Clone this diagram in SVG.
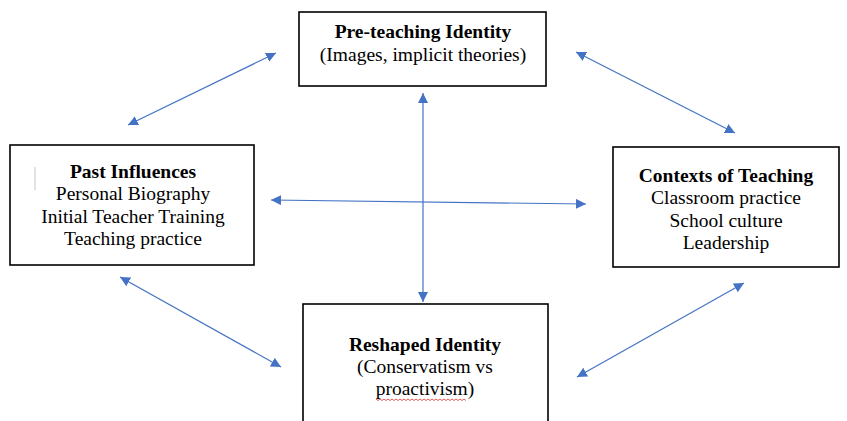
<svg xmlns="http://www.w3.org/2000/svg" width="847" height="421" viewBox="0 0 847 421">
<style>
.box{fill:#fff;stroke:#000;stroke-width:1.6}
text{font-family:"Liberation Serif","Times New Roman",serif;font-size:19.5px;fill:#000;text-anchor:middle}
.b{font-weight:bold}
.conn line{stroke:#4472C4;stroke-width:1.2}
</style>
<defs>
<marker id="ah" viewBox="0 0 10 10" refX="10" refY="5" markerWidth="10" markerHeight="10" markerUnits="userSpaceOnUse" orient="auto-start-reverse">
<path d="M0,0 L10,5 L0,10 Z" fill="#4472C4"/>
</marker>
</defs>
<rect width="847" height="421" fill="#fff"/>
<g id="pre-teaching">
<rect class="box" x="299" y="12" width="247" height="74"/>
<text class="b" x="423" y="38">Pre-teaching Identity</text>
<text x="423" y="61">(Images, implicit theories)</text>
</g>
<g id="past-influences">
<rect class="box" x="10" y="145" width="244" height="120"/>
<line x1="35" y1="167" x2="35" y2="190" stroke="#d9d9d9" stroke-width="1.5"/>
<text class="b" x="133" y="178">Past Influences</text>
<text x="133" y="200">Personal Biography</text>
<text x="133" y="223">Initial Teacher Training</text>
<text x="133" y="245">Teaching practice</text>
</g>
<g id="contexts">
<rect class="box" x="613" y="147" width="226" height="120"/>
<text class="b" x="726" y="182">Contexts of Teaching</text>
<text x="726" y="204">Classroom practice</text>
<text x="726" y="227">School culture</text>
<text x="726" y="249">Leadership</text>
</g>
<g id="reshaped">
<rect class="box" x="303" y="304" width="245" height="130"/>
<text class="b" x="425" y="351">Reshaped Identity</text>
<text x="425" y="373">(Conservatism vs</text>
<text x="425" y="395">proactivism)</text>
<path d="M376,399 l2,1.5 l2,-1.5 l2,1.5 l2,-1.5 l2,1.5 l2,-1.5 l2,1.5 l2,-1.5 l2,1.5 l2,-1.5 l2,1.5 l2,-1.5 l2,1.5 l2,-1.5 l2,1.5 l2,-1.5 l2,1.5 l2,-1.5 l2,1.5 l2,-1.5 l2,1.5 l2,-1.5 l2,1.5 l2,-1.5 l2,1.5 l2,-1.5 l2,1.5 l2,-1.5 l2,1.5 l2,-1.5 l2,1.5 l2,-1.5 l2,1.5 l2,-1.5 l2,1.5 l2,-1.5 l2,1.5 l2,-1.5 l2,1.5 l2,-1.5 l2,1.5 l2,-1.5 l2,1.5 l2,-1.5 l2,1.5" fill="none" stroke="#e03030" stroke-width="0.8"/>
</g>
<g id="connectors" class="conn">
<line x1="128" y1="125" x2="276" y2="53" marker-start="url(#ah)" marker-end="url(#ah)"/>
<line x1="576" y1="52" x2="735" y2="133" marker-start="url(#ah)" marker-end="url(#ah)"/>
<line x1="120" y1="277" x2="281" y2="367" marker-start="url(#ah)" marker-end="url(#ah)"/>
<line x1="577" y1="377" x2="744" y2="283" marker-start="url(#ah)" marker-end="url(#ah)"/>
<line x1="271" y1="200" x2="586" y2="204" marker-start="url(#ah)" marker-end="url(#ah)"/>
<line x1="423" y1="93" x2="423" y2="302" marker-start="url(#ah)" marker-end="url(#ah)"/>
</g>
</svg>
